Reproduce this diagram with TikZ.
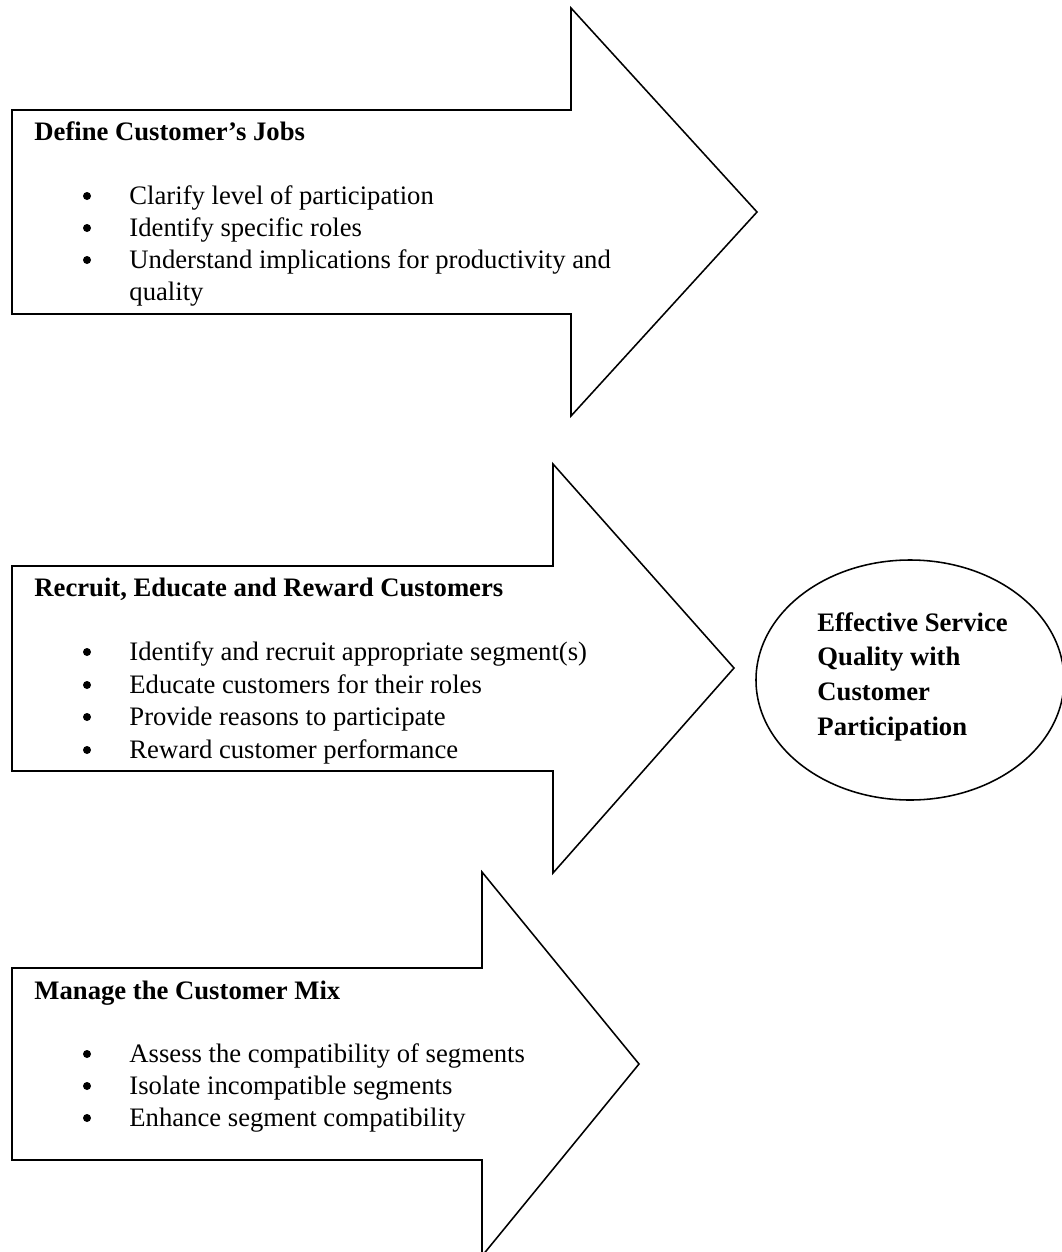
\documentclass[tikz,border=0pt]{standalone}
\usepackage{fontspec}
\setmainfont{Liberation Serif}
\usetikzlibrary{shapes.geometric}
\tikzset{
  bigarrow/.style={draw=black, line width=0.7pt, line join=miter},
  heading/.style={anchor=base west, inner sep=0pt, font=\fontsize{12}{14.4}\selectfont\bfseries},
  point/.style={anchor=base west, inner sep=0pt, font=\fontsize{12}{14.4}\selectfont},
  goal/.style={ellipse, draw=black, line width=0.7pt, minimum width=138.6pt, minimum height=108pt, inner sep=0pt},
  goaltext/.style={anchor=north west, inner sep=0pt, align=left, font=\fontsize{12}{15.6}\selectfont\bfseries}
}
\begin{document}
\begin{tikzpicture}[x=0.45pt, y=-0.45pt]
 \useasboundingbox (0,0) rectangle (1062,1252);
 % first arrow
 \draw[bigarrow](12,110)--(571,110)--(571,8)--(757,212)--(571,416)--(571,314)--(12,314)--cycle;
 \node[heading] (jobs) at (34,141) {Define Customer’s Jobs};
 \fill (87,196) circle (1.8pt);
 \node[point] (jobsa) at (129,204) {Clarify level of participation};
 \fill (87,228) circle (1.8pt);
 \node[point] (jobsb) at (129,236) {Identify specific roles};
 \fill (87,260) circle (1.8pt);
 \node[point] (jobsc) at (129,268) {Understand implications for productivity and};
 \node[point] (jobsd) at (129,300) {quality};
 % second arrow
 \draw[bigarrow](12,566)--(553,566)--(553,464)--(734,668)--(553,873)--(553,771)--(12,771)--cycle;
 \node[heading] (recruit) at (34,596) {Recruit, Educate and Reward Customers};
 \fill (87,652) circle (1.8pt);
 \node[point] (recruita) at (129,660) {Identify and recruit appropriate segment(s)};
 \fill (87,685) circle (1.8pt);
 \node[point] (recruitb) at (129,693) {Educate customers for their roles};
 \fill (87,717) circle (1.8pt);
 \node[point] (recruitc) at (129,725) {Provide reasons to participate};
 \fill (87,750) circle (1.8pt);
 \node[point] (recruitd) at (129,758) {Reward customer performance};
 % third arrow
 \draw[bigarrow](12,968)--(482,968)--(482,872)--(639,1064)--(482,1256)--(482,1160)--(12,1160)--cycle;
 \node[heading] (mix) at (34,999) {Manage the Customer Mix};
 \fill (87,1054) circle (1.8pt);
 \node[point] (mixa) at (129,1062) {Assess the compatibility of segments};
 \fill (87,1086) circle (1.8pt);
 \node[point] (mixb) at (129,1094) {Isolate incompatible segments};
 \fill (87,1118) circle (1.8pt);
 \node[point] (mixc) at (129,1126) {Enhance segment compatibility};
 % outcome
 \node[goal] (quality) at (910,680) {};
 \node[goaltext] (qualitytext) at (817,612) {Effective Service\\Quality with\\Customer\\Participation};
\end{tikzpicture}
\end{document}
